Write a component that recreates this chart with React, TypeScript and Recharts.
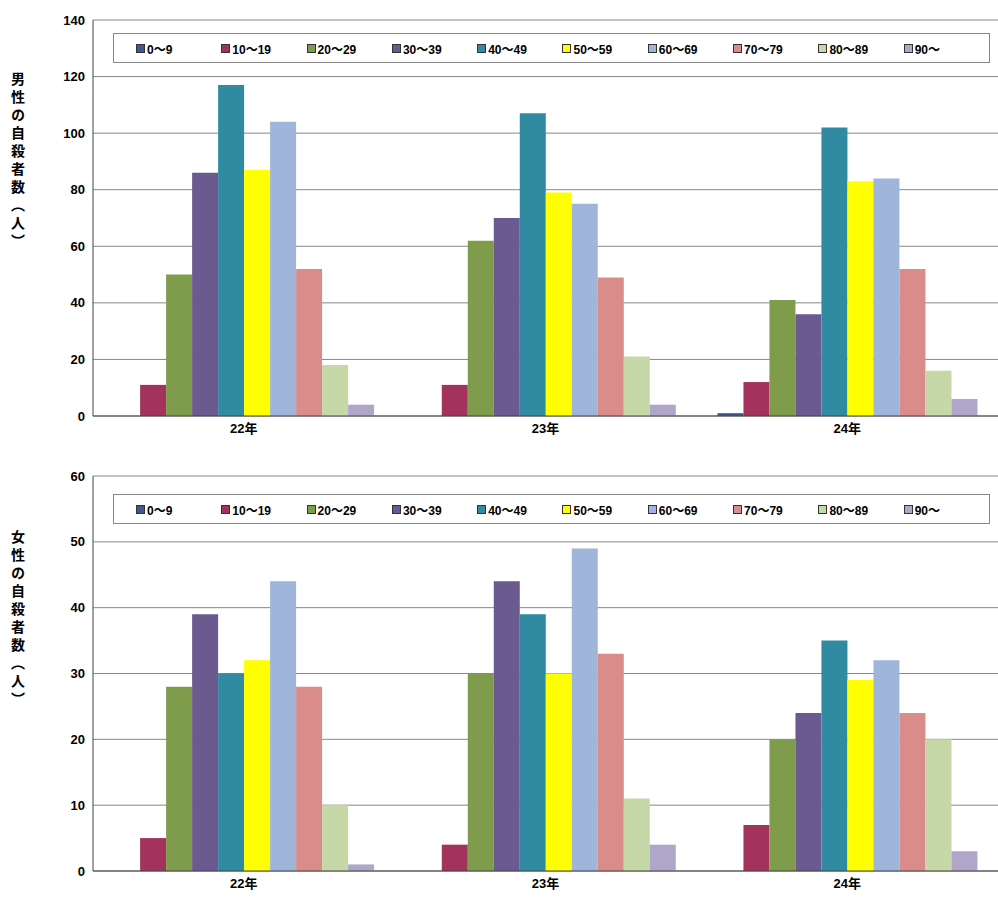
import React from "react";
import { BarChart, Bar, XAxis, YAxis, CartesianGrid } from "recharts";

const years = ["22年", "23年", "24年"];
const ageGroups = ["0～9", "10～19", "20～29", "30～39", "40～49", "50～59", "60～69", "70～79", "80～89", "90～"];
const colors = ["#3d5a8a", "#a3325c", "#7f9c4c", "#6a5a8f", "#2f8aa2", "#ffff00", "#9fb6da", "#d98c8a", "#c6d8a8", "#b0a6c9"];
const male22 = [0, 11, 50, 86, 117, 87, 104, 52, 18, 4];
const male23 = [0, 11, 62, 70, 107, 79, 75, 49, 21, 4];
const male24 = [1, 12, 41, 36, 102, 83, 84, 52, 16, 6];
const female22 = [0, 5, 28, 39, 30, 32, 44, 28, 10, 1];
const female23 = [0, 4, 30, 44, 39, 30, 49, 33, 11, 4];
const female24 = [0, 7, 20, 24, 35, 29, 32, 24, 20, 3];
const maleTicks = [0, 20, 40, 60, 80, 100, 120, 140];
const femaleTicks = [0, 10, 20, 30, 40, 50, 60];

const build = (rows: number[][]) =>
  years.map((y, i) => {
    const o: any = { year: y };
    ageGroups.forEach((g, j) => (o["a" + j] = rows[i][j]));
    return o;
  });

const maleData = build([male22, male23, male24]);
const femaleData = build([female22, female23, female24]);

const font = "'Liberation Sans', 'Noto Sans CJK JP', Arial, sans-serif";
const cjk = "'Noto Sans CJK JP', sans-serif";

function LegendBox({ top }: { top: number }) {
  return (
    <div style={{ position: "absolute", left: 113, top, width: 877, height: 30, border: "1px solid #888", background: "#fff", display: "flex", alignItems: "center", paddingLeft: 22, boxSizing: "border-box", fontFamily: font, fontSize: 12, fontWeight: "bold" }}>
      {ageGroups.map((g, i) => (
        <div key={g} style={{ display: "flex", alignItems: "center", width: 86 }}>
          <span style={{ display: "inline-block", width: 7, height: 7, background: colors[i], border: "1px solid #333", marginRight: 2 }} />
          {g}
        </div>
      ))}
    </div>
  );
}

function Panel({ data, ticks, max, height, mt, mb }: any) {
  return (
    <BarChart width={998} height={height} data={data} margin={{ top: mt, right: 0, bottom: mb, left: 0 }} barCategoryGap="7%" barGap={0}>
      <CartesianGrid vertical={false} stroke="#888" />
      <XAxis dataKey="year" tickLine={false} axisLine={{ stroke: "#444" }} tick={{ fontSize: 13, fontWeight: "bold", fill: "#000", fontFamily: font }} />
      <YAxis width={93} domain={[0, max]} ticks={ticks} interval={0} tickLine={false} axisLine={{ stroke: "#444" }} tick={{ fontSize: 13, fontWeight: "bold", fill: "#000", fontFamily: font }} />
      {ageGroups.map((g, i) => (
        <Bar key={g} dataKey={"a" + i} fill={colors[i]} isAnimationActive={false} />
      ))}
    </BarChart>
  );
}

const vlabel = (text: string, top: number) => (
  <div style={{ position: "absolute", left: 10, top, writingMode: "vertical-rl", fontFamily: cjk, fontSize: 14, lineHeight: "16px", fontWeight: "bold", letterSpacing: 4 }}>{text}</div>
);

export default function App() {
  return (
    <div style={{ position: "absolute", left: 0, top: 0, width: 998, height: 901, background: "#fff" }}>
      <div style={{ position: "absolute", left: 0, top: 0 }}>
        <Panel data={maleData} ticks={maleTicks} max={140} height={455} mt={20} mb={9} />
      </div>
      <div style={{ position: "absolute", left: 0, top: 455 }}>
        <Panel data={femaleData} ticks={femaleTicks} max={60} height={446} mt={21} mb={0} />
      </div>
      <LegendBox top={33} />
      <LegendBox top={494} />
      {vlabel("男性の自殺者数（人）", 72)}
      {vlabel("女性の自殺者数（人）", 530)}
    </div>
  );
}
